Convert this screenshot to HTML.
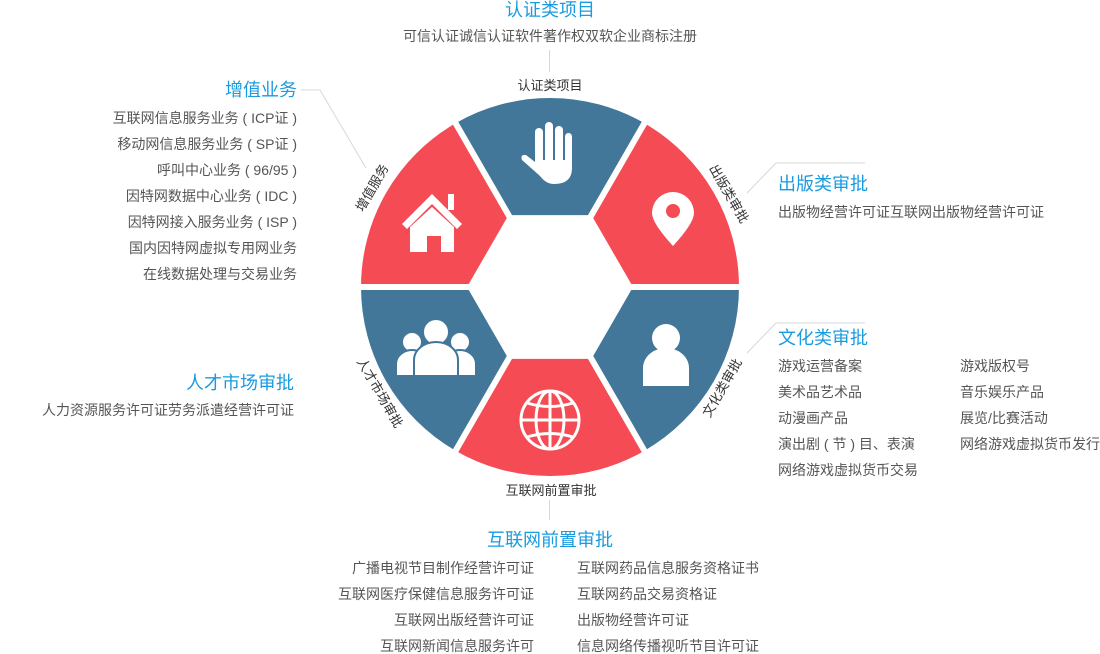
<!DOCTYPE html>
<html><head><meta charset="utf-8"><style>
body{margin:0;width:1100px;height:654px;background:#fff;position:relative;overflow:hidden;font-family:"Liberation Sans","Noto Sans CJK SC",sans-serif;}
.t{position:absolute;color:#1a9be0;font-size:18px;line-height:20px;white-space:nowrap}
.s{position:absolute;color:#555;font-size:14px;line-height:16px;white-space:pre}
.r{text-align:right}
svg{position:absolute;left:0;top:0}
</style></head><body>
<svg width="1100" height="654">
<g stroke="#d8d8d8" stroke-width="1" fill="none">
<line x1="549.5" y1="50" x2="549.5" y2="72"/>
<line x1="549.5" y1="500" x2="549.5" y2="520"/>
<polyline points="301,90 320,90 366,168"/>
<polyline points="865,163 776,163 747,193"/>
<polyline points="865,323 776,323 747,353"/>
</g>
<g>
<path d="M591.5,215.1 L644.5,123.3 A189,189 0 0 0 455.5,123.3 L508.5,215.1 Z" fill="#42779a"/>
<path d="M508.5,215.1 L455.5,123.3 A189,189 0 0 0 361,287 L467,287 Z" fill="#f54b55"/>
<path d="M467,287 L361,287 A189,189 0 0 0 455.5,450.7 L508.5,358.9 Z" fill="#42779a"/>
<path d="M508.5,358.9 L455.5,450.7 A189,189 0 0 0 644.5,450.7 L591.5,358.9 Z" fill="#f54b55"/>
<path d="M591.5,358.9 L644.5,450.7 A189,189 0 0 0 739,287 L633,287 Z" fill="#42779a"/>
<path d="M633,287 L739,287 A189,189 0 0 0 644.5,123.3 L591.5,215.1 Z" fill="#f54b55"/>
</g>
<g stroke="#fff" stroke-width="6">
<line x1="550" y1="287" x2="745" y2="287"/><line x1="550" y1="287" x2="355" y2="287"/>
<line x1="550" y1="287" x2="648" y2="117"/><line x1="550" y1="287" x2="452" y2="117"/>
<line x1="550" y1="287" x2="648" y2="457"/><line x1="550" y1="287" x2="452" y2="457"/>
</g>
<g fill="#fff">
<rect x="535" y="128" width="8" height="40" rx="4"/>
<rect x="545" y="122" width="8" height="46" rx="4"/>
<rect x="555" y="126" width="8" height="42" rx="4"/>
<rect x="565" y="133" width="7" height="38" rx="3.5"/>
<path d="M535,160 L572,160 L572,168 Q572,184 554,184 Q546,184 540,176 L522,160 Q520,154 526,155 L535,162 Z"/>
</g>
<path d="M673,192 a21,21 0 0 1 21,21 q0,10 -21,33 q-21,-23 -21,-33 a21,21 0 0 1 21,-21z" fill="#fff"/>
<circle cx="673" cy="211" r="7" fill="#f54b55"/>
<g fill="#fff">
<polygon points="402,224 432,194 462,224 457,229 432,204 407,229"/>
<rect x="448" y="194" width="6" height="16"/>
<polygon points="410,227 432,207 454,227 454,252 441,252 441,236 427,236 427,252 410,252"/>
</g>
<g fill="#fff" stroke="#42779a" stroke-width="2">
<circle cx="412" cy="342" r="10"/><circle cx="460" cy="342" r="10"/>
<path d="M396,376 v-12 a16,14 0 0 1 32,0 v12z"/>
<path d="M444,376 v-12 a16,14 0 0 1 32,0 v12z"/>
<circle cx="436" cy="332" r="13"/>
<path d="M414,376 v-16 a22,18 0 0 1 44,0 v16z"/>
</g>
<g fill="#fff"><circle cx="666" cy="338" r="14"/><path d="M643,386 v-18 a23,20 0 0 1 46,0 v18z"/></g>
<g fill="none" stroke="#fff" stroke-width="3">
<circle cx="550" cy="420" r="29"/>
<ellipse cx="550" cy="420" rx="14" ry="29"/>
<line x1="550" y1="391" x2="550" y2="449"/>
<line x1="521" y1="420" x2="579" y2="420"/>
<path d="M527,403 Q550,410 573,403"/><path d="M527,437 Q550,430 573,437"/>
</g>
<g font-size="13" fill="#333" font-family="Liberation Sans, Noto Sans CJK SC, sans-serif" text-anchor="middle">
<text x="550" y="90">认证类项目</text>
<text x="551" y="495">互联网前置审批</text>
<text transform="translate(376,190) rotate(-60)">增值服务</text>
<text transform="translate(725,196) rotate(60)">出版类审批</text>
<text transform="translate(376,395) rotate(60)">人才市场审批</text>
<text transform="translate(726,390) rotate(-60)">文化类审批</text>
</g>
</svg>

<div class="t" style="left:400px;width:300px;text-align:center;top:0px">认证类项目</div>
<div class="s" style="left:350px;width:400px;text-align:center;top:28px">可信认证诚信认证软件著作权双软企业商标注册</div>

<div class="t r" style="right:803px;top:80px">增值业务</div>
<div class="s r" style="right:803px;top:110px">互联网信息服务业务 ( ICP证 )</div>
<div class="s r" style="right:803px;top:136px">移动网信息服务业务 ( SP证 )</div>
<div class="s r" style="right:803px;top:162px">呼叫中心业务 ( 96/95 )</div>
<div class="s r" style="right:803px;top:188px">因特网数据中心业务 ( IDC )</div>
<div class="s r" style="right:803px;top:214px">因特网接入服务业务 ( ISP )</div>
<div class="s r" style="right:803px;top:240px">国内因特网虚拟专用网业务</div>
<div class="s r" style="right:803px;top:266px">在线数据处理与交易业务</div>

<div class="t r" style="right:806px;top:373px">人才市场审批</div>
<div class="s r" style="right:806px;top:402px">人力资源服务许可证劳务派遣经营许可证</div>

<div class="t" style="left:778px;top:174px">出版类审批</div>
<div class="s" style="left:778px;top:204px">出版物经营许可证互联网出版物经营许可证</div>

<div class="t" style="left:778px;top:328px">文化类审批</div>
<div class="s" style="left:778px;top:358px">游戏运营备案</div>
<div class="s" style="left:778px;top:384px">美术品艺术品</div>
<div class="s" style="left:778px;top:410px">动漫画产品</div>
<div class="s" style="left:778px;top:436px">演出剧 ( 节 ) 目、表演</div>
<div class="s" style="left:778px;top:462px">网络游戏虚拟货币交易</div>
<div class="s" style="left:960px;top:358px">游戏版权号</div>
<div class="s" style="left:960px;top:384px">音乐娱乐产品</div>
<div class="s" style="left:960px;top:410px">展览/比赛活动</div>
<div class="s" style="left:960px;top:436px">网络游戏虚拟货币发行</div>

<div class="t" style="left:400px;width:300px;text-align:center;top:530px">互联网前置审批</div>
<div class="s r" style="right:566px;top:560px">广播电视节目制作经营许可证</div>
<div class="s r" style="right:566px;top:586px">互联网医疗保健信息服务许可证</div>
<div class="s r" style="right:566px;top:612px">互联网出版经营许可证</div>
<div class="s r" style="right:566px;top:638px">互联网新闻信息服务许可</div>
<div class="s" style="left:577px;top:560px">互联网药品信息服务资格证书</div>
<div class="s" style="left:577px;top:586px">互联网药品交易资格证</div>
<div class="s" style="left:577px;top:612px">出版物经营许可证</div>
<div class="s" style="left:577px;top:638px">信息网络传播视听节目许可证</div>
</body></html>
